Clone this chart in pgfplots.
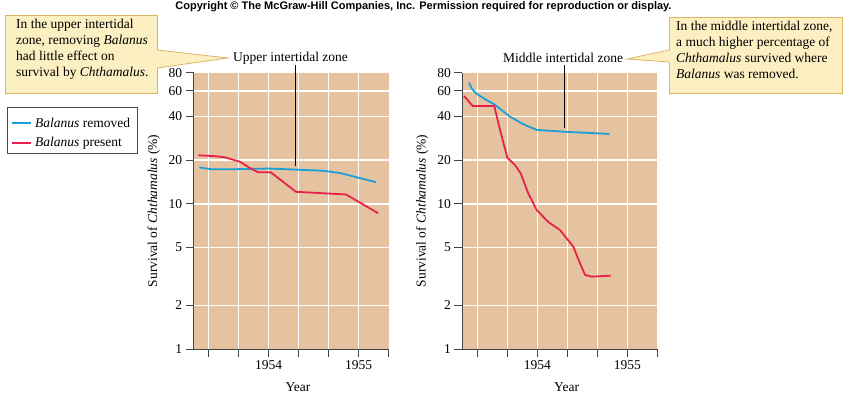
\documentclass[border=0pt]{standalone}
\usepackage{fontspec}
\setmainfont{Liberation Serif}
\newfontfamily\cpfont{Liberation Sans}
\usepackage{pgfplots}
\pgfplotsset{compat=1.18}
\definecolor{tanbg}{HTML}{E6C3A0}
\definecolor{lblue}{HTML}{1AA0D8}
\definecolor{lred}{HTML}{E6224A}
\definecolor{boxfill}{HTML}{FCF0C2}
\definecolor{boxborder}{HTML}{DDB460}
\definecolor{axisgray}{HTML}{444444}
\definecolor{gridc}{HTML}{FFFFFF}
\pgfplotsset{mypanel/.style={
  anchor=south west, scale only axis, width=195pt, height=276.3pt,
  xmin=1953.1667, xmax=1955.3333, ymin=1, ymax=80,
  xtick={1953.3333,1953.6667,1954,1954.3333,1954.6667,1955,1955.3333},
  xticklabels={,,1954,,,1955,},
  ytick={1,2,5,10,20,40,60,80}, yticklabels={1,2,5,10,20,40,60,80},
  yminorticks=false, xminorticks=false,
  axis x line*=bottom, axis y line*=left,
  axis line style={draw=axisgray, line width=0.8pt, -},
  tick style={draw=axisgray, line width=0.8pt},
  tick align=outside, major tick length=8pt,
  axis on top,
  clip=false,
  /pgf/number format/assume math mode=true,
  ticklabel style={font=\fontsize{13.5}{16}\selectfont},
  ylabel={Survival of \textit{Chthamalus} (\%)},
  ylabel style={at={(axis description cs:-0.205,0.5)}, anchor=center},
  xlabel={Year},
  xlabel style={at={(axis description cs:0.535,0)}, anchor=center, yshift=-38pt},
}}
\newcommand{\mygrid}{%
  \fill[tanbg] (rel axis cs:0,0) rectangle (rel axis cs:1,1);
  \pgfplotsinvokeforeach{1953.3333,1953.6667,1954,1954.3333,1954.6667,1955}{%
    \draw[gridc, line width=1.5pt] (axis cs:##1,1) -- (axis cs:##1,80);}%
  \pgfplotsinvokeforeach{2,5,10,20,40,60}{%
    \draw[gridc, line width=1.5pt] (axis cs:1953.1667,##1) -- (axis cs:1955.3333,##1);}%
}
\begin{document}
\begin{tikzpicture}[font=\fontsize{13.5}{16}\selectfont]
\useasboundingbox (0,0) rectangle (847pt,-396pt);
% Left panel
\begin{semilogyaxis}[mypanel, at={(193.7pt,-349pt)}]
\mygrid
\addplot[lblue, line width=1.8pt] coordinates {
(1953.229,17.8) (1953.367,17.3) (1953.6,17.3) (1954.0,17.5) (1954.311,17.2) (1954.6,16.9) (1954.792,16.3) (1955.192,14.1)};
\addplot[lred, line width=1.8pt] coordinates {
(1953.218,21.6) (1953.4,21.3) (1953.514,20.9) (1953.681,19.5) (1953.75,18.3) (1953.792,17.6) (1953.884,16.5) (1954.022,16.5) (1954.303,12.1) (1954.859,11.6) (1955.218,8.6)};
\end{semilogyaxis}
% Right panel
\begin{semilogyaxis}[mypanel, at={(462.3pt,-349pt)}]
\mygrid
\addplot[lblue, line width=1.8pt] coordinates {
(1953.241,68.3) (1953.271,62.4) (1953.319,57.7) (1953.42,52.5) (1953.522,48.5) (1953.697,39.8) (1953.863,34.9) (1953.993,32.3) (1954.327,31.3) (1954.8,30.3)};
\addplot[lred, line width=1.8pt] coordinates {
(1953.186,55.3) (1953.282,47.2) (1953.522,47.2) (1953.586,32.3) (1953.667,20.8) (1953.752,18.5) (1953.816,16.2) (1953.9,11.8) (1953.993,9.07) (1954.122,7.5) (1954.252,6.6) (1954.4,5.07) (1954.474,3.9) (1954.53,3.24) (1954.604,3.15) (1954.816,3.2)};
\end{semilogyaxis}
% copyright
\node[font=\cpfont\bfseries\fontsize{11}{12}\selectfont, inner sep=0pt] at (423.5pt,-7pt) {Copyright © The McGraw-Hill Companies, Inc. Permission required for reproduction or display.};
% zone labels and leaders
\node[inner sep=0pt] at (290.5pt,-58pt) {Upper intertidal zone};
\draw[black, line width=0.6pt] (295pt,-65pt) -- (295pt,-166pt);
\node[inner sep=0pt] at (563pt,-58pt) {Middle intertidal zone};
\draw[black, line width=0.6pt] (564pt,-65pt) -- (564pt,-128pt);
% left callout
\filldraw[fill=boxfill, draw=boxborder, line width=0.8pt] (5pt,-15pt) rectangle (157pt,-93pt);
\fill[boxfill] (155pt,-50pt) -- (228pt,-58pt) -- (155pt,-68pt) -- cycle;
\draw[boxborder, line width=0.8pt] (157pt,-50pt) -- (228pt,-58pt) -- (157pt,-68pt);
\node[anchor=north west, align=left, inner sep=0pt] at (16pt,-19pt) {In the upper intertidal\\zone, removing \textit{Balanus}\\had little effect on\\survival by \textit{Chthamalus}.};
% right callout
\filldraw[fill=boxfill, draw=boxborder, line width=0.8pt] (669pt,-17pt) rectangle (842pt,-93pt);
\fill[boxfill] (671pt,-50pt) -- (627pt,-59pt) -- (671pt,-62pt) -- cycle;
\draw[boxborder, line width=0.8pt] (669pt,-50pt) -- (627pt,-59pt) -- (669pt,-62pt);
\node[anchor=north west, align=left, inner sep=0pt] at (676pt,-21pt) {In the middle intertidal zone,\\a much higher percentage of\\\textit{Chthamalus} survived where\\\textit{Balanus} was removed.};
% legend
\draw[draw=gray!60!black, line width=0.8pt] (7pt,-107pt) rectangle (137pt,-153pt);
\draw[lblue, line width=1.8pt] (12pt,-123pt) -- (31pt,-123pt);
\node[anchor=west, inner sep=0pt] at (35pt,-123pt) {\textit{Balanus} removed};
\draw[lred, line width=1.8pt] (12pt,-143pt) -- (31pt,-143pt);
\node[anchor=west, inner sep=0pt] at (35pt,-143pt) {\textit{Balanus} present};
\end{tikzpicture}
\end{document}
